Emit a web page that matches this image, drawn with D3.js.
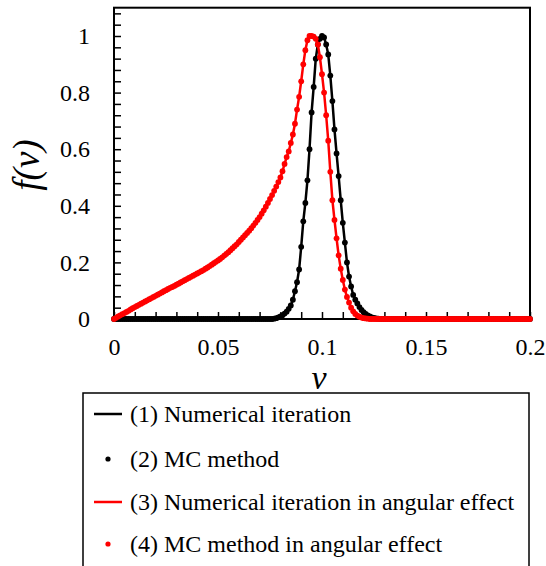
<!DOCTYPE html>
<html>
<head>
<meta charset="utf-8">
<title>f(v)</title>
<script src="https://d3js.org/d3.v7.min.js"></script>
<style>
  body { margin: 0; background: #fff; }
  text { font-family: "Liberation Serif", "Times New Roman", serif; fill: #000; }
</style>
</head>
<body>
<div id="chart"></div>
<script>
// tick labels
var xTickLabels = [0, 0.05, 0.1, 0.15, 0.2];
var yTickLabels = [0, 0.2, 0.4, 0.6, 0.8, 1];

// v grid shared by both curves
var vGrid = [
  0.000, 0.001, 0.002, 0.003, 0.004, 0.005, 0.006, 0.007, 0.008, 0.009,
  0.010, 0.011, 0.012, 0.013, 0.014, 0.015, 0.016, 0.017, 0.018, 0.019,
  0.020, 0.021, 0.022, 0.023, 0.024, 0.025, 0.026, 0.027, 0.028, 0.029,
  0.030, 0.031, 0.032, 0.033, 0.034, 0.035, 0.036, 0.037, 0.038, 0.039,
  0.040, 0.041, 0.042, 0.043, 0.044, 0.045, 0.046, 0.047, 0.048, 0.049,
  0.050, 0.051, 0.052, 0.053, 0.054, 0.055, 0.056, 0.057, 0.058, 0.059,
  0.060, 0.061, 0.062, 0.063, 0.064, 0.065, 0.066, 0.067, 0.068, 0.069,
  0.070, 0.071, 0.072, 0.073, 0.074, 0.075, 0.076, 0.077, 0.078, 0.079,
  0.080, 0.081, 0.082, 0.083, 0.084, 0.085, 0.086, 0.087, 0.088, 0.089,
  0.090, 0.091, 0.092, 0.093, 0.094, 0.095, 0.096, 0.097, 0.098, 0.099,
  0.100, 0.101, 0.102, 0.103, 0.104, 0.105, 0.106, 0.107, 0.108, 0.109,
  0.110, 0.111, 0.112, 0.113, 0.114, 0.115, 0.116, 0.117, 0.118, 0.119,
  0.120, 0.121, 0.122, 0.123, 0.124, 0.125, 0.126, 0.127, 0.128, 0.129,
  0.130, 0.131, 0.132, 0.133, 0.134, 0.135, 0.136, 0.137, 0.138, 0.139,
  0.140, 0.141, 0.142, 0.143, 0.144, 0.145, 0.146, 0.147, 0.148, 0.149,
  0.150, 0.151, 0.152, 0.153, 0.154, 0.155, 0.156, 0.157, 0.158, 0.159,
  0.160, 0.161, 0.162, 0.163, 0.164, 0.165, 0.166, 0.167, 0.168, 0.169,
  0.170, 0.171, 0.172, 0.173, 0.174, 0.175, 0.176, 0.177, 0.178, 0.179,
  0.180, 0.181, 0.182, 0.183, 0.184, 0.185, 0.186, 0.187, 0.188, 0.189,
  0.190, 0.191, 0.192, 0.193, 0.194, 0.195, 0.196, 0.197, 0.198, 0.199,
  0.200];

// black: numerical iteration / MC method
var fBlack = [
  0, 0, 0, 0, 0, 0, 0, 0, 0, 0,
  0, 0, 0, 0, 0, 0, 0, 0, 0, 0,
  0, 0, 0, 0, 0, 0, 0, 0, 0, 0,
  0, 0, 0, 0, 0, 0, 0, 0, 0, 0,
  0, 0, 0, 0, 0, 0, 0, 0, 0, 0,
  0, 0, 0, 0, 0, 0, 0, 0, 0, 0,
  0, 0, 0, 0, 0, 0, 0, 0, 0, 0,
  0, 0, 0, 0, 0, 0, 0, 0.001, 0.003, 0.006,
  0.009, 0.013, 0.019, 0.026, 0.036, 0.048, 0.068, 0.098, 0.13, 0.175,
  0.255, 0.345, 0.41, 0.49, 0.6, 0.73, 0.82, 0.92, 0.97, 0.99,
  1.0, 0.995, 0.97, 0.935, 0.86, 0.77, 0.67, 0.585, 0.505, 0.42,
  0.34, 0.27, 0.2, 0.15, 0.115, 0.085, 0.068, 0.055, 0.042, 0.032,
  0.024, 0.018, 0.013, 0.009, 0.006, 0.004, 0.002, 0.001, 0, 0,
  0, 0, 0, 0, 0, 0, 0, 0, 0, 0,
  0, 0, 0, 0, 0, 0, 0, 0, 0, 0,
  0, 0, 0, 0, 0, 0, 0, 0, 0, 0,
  0, 0, 0, 0, 0, 0, 0, 0, 0, 0,
  0, 0, 0, 0, 0, 0, 0, 0, 0, 0,
  0, 0, 0, 0, 0, 0, 0, 0, 0, 0,
  0, 0, 0, 0, 0, 0, 0, 0, 0, 0,
  0];

// red: angular effect
var fRed = [
  0, 0.004, 0.009, 0.013, 0.017, 0.021, 0.025, 0.029, 0.034, 0.038,
  0.042, 0.046, 0.05, 0.054, 0.058, 0.062, 0.066, 0.07, 0.074, 0.078,
  0.082, 0.086, 0.09, 0.094, 0.098, 0.102, 0.106, 0.11, 0.113, 0.117,
  0.121, 0.125, 0.129, 0.133, 0.137, 0.141, 0.145, 0.149, 0.153, 0.157,
  0.161, 0.165, 0.169, 0.173, 0.178, 0.182, 0.187, 0.192, 0.197, 0.202,
  0.207, 0.212, 0.218, 0.224, 0.23, 0.236, 0.243, 0.25, 0.257, 0.264,
  0.272, 0.28, 0.288, 0.296, 0.304, 0.312, 0.321, 0.33, 0.34, 0.35,
  0.36, 0.372, 0.384, 0.397, 0.41, 0.424, 0.438, 0.453, 0.468, 0.484,
  0.5, 0.522, 0.548, 0.572, 0.592, 0.622, 0.652, 0.69, 0.74, 0.785,
  0.84, 0.9, 0.95, 0.985, 1.0, 1.0, 0.998, 0.99, 0.97, 0.925,
  0.865, 0.8, 0.72, 0.63, 0.52, 0.42, 0.35, 0.285, 0.225, 0.178,
  0.138, 0.104, 0.078, 0.058, 0.04, 0.027, 0.018, 0.012, 0.008, 0.005,
  0.003, 0.002, 0.001, 0, 0, 0, 0, 0, 0, 0,
  0, 0, 0, 0, 0, 0, 0, 0, 0, 0,
  0, 0, 0, 0, 0, 0, 0, 0, 0, 0,
  0, 0, 0, 0, 0, 0, 0, 0, 0, 0,
  0, 0, 0, 0, 0, 0, 0, 0, 0, 0,
  0, 0, 0, 0, 0, 0, 0, 0, 0, 0,
  0, 0, 0, 0, 0, 0, 0, 0, 0, 0,
  0, 0, 0, 0, 0, 0, 0, 0, 0, 0,
  0];

var legendLabels = [
  "(1) Numerical iteration",
  "(2) MC method",
  "(3) Numerical iteration in angular effect",
  "(4) MC method in angular effect"
];

var width = 546, height = 566;
var svg = d3.select("#chart").append("svg")
  .attr("width", width)
  .attr("height", height);

var x = d3.scaleLinear().domain([0, 0.2]).range([114, 530]);
var y = d3.scaleLinear().domain([0, 1]).range([319, 36]);
var yTop = y(1.1);

// minor ticks
var xTicks = d3.range(0, 21).map(function (i) { return i / 100; });
var yTicks = d3.range(0, 28).map(function (i) { return i * 4 / 100; });
var fmt = function (d) { return d3.format("~g")(d); };

var xAxis = svg.append("g")
  .attr("transform", "translate(0," + y(0) + ")")
  .call(d3.axisBottom(x).tickValues(xTicks).tickSize(-7).tickPadding(19)
    .tickFormat(function (d) {
      return xTickLabels.some(function (t) { return Math.abs(t - d) < 1e-9; }) ? fmt(d) : "";
    }));

var yAxis = svg.append("g")
  .attr("transform", "translate(" + x(0) + ",0)")
  .call(d3.axisLeft(y).tickValues(yTicks).tickSize(-7).tickPadding(24)
    .tickFormat(function (d) {
      return yTickLabels.some(function (t) { return Math.abs(t - d) < 1e-9; }) ? fmt(d) : "";
    }));

[xAxis, yAxis].forEach(function (g) {
  g.select(".domain").remove();
  g.selectAll(".tick line").attr("stroke", "#000").attr("stroke-width", 1.5);
  g.selectAll(".tick text").attr("font-size", 24)
    .attr("font-family", "'Liberation Serif', 'Times New Roman', serif");
});

// frame
svg.append("rect")
  .attr("x", x(0)).attr("y", yTop)
  .attr("width", x(0.2) - x(0)).attr("height", y(0) - yTop)
  .attr("fill", "none").attr("stroke", "#000").attr("stroke-width", 2);

var line = d3.line()
  .x(function (d) { return x(d[0]); })
  .y(function (d) { return y(d[1]); });

function drawSeries(vs, fs, color) {
  var pts = vs.map(function (v, i) { return [v, fs[i]]; });
  svg.append("path").datum(pts)
    .attr("d", line)
    .attr("fill", "none")
    .attr("stroke", color)
    .attr("stroke-width", 2.5);
  svg.append("g").selectAll("circle")
    .data(pts).enter().append("circle")
    .attr("cx", function (d) { return x(d[0]); })
    .attr("cy", function (d) { return y(d[1]); })
    .attr("r", 2.9)
    .attr("fill", color);
}

drawSeries(vGrid, fBlack, "#000");
drawSeries(vGrid, fRed, "#f00");

// axis titles
svg.append("text")
  .attr("transform", "translate(39,165) rotate(-90)")
  .attr("text-anchor", "middle")
  .attr("font-size", 37)
  .attr("font-style", "italic")
  .text("f(v)");

svg.append("text")
  .attr("x", 319).attr("y", 389)
  .attr("text-anchor", "middle")
  .attr("font-size", 34)
  .attr("font-style", "italic")
  .text("v");

// legend
var legend = svg.append("g");
legend.append("rect")
  .attr("x", 83).attr("y", 393)
  .attr("width", 446).attr("height", 190)
  .attr("fill", "#fff").attr("stroke", "#000").attr("stroke-width", 1.5);

var legendY = [414, 459, 502, 544];
var legendColor = ["#000", "#000", "#f00", "#f00"];
legendLabels.forEach(function (lab, i) {
  var yy = legendY[i];
  if (i % 2 === 0) {
    legend.append("line")
      .attr("x1", 94).attr("x2", 122).attr("y1", yy).attr("y2", yy)
      .attr("stroke", legendColor[i]).attr("stroke-width", 2.5);
  } else {
    legend.append("circle")
      .attr("cx", 108).attr("cy", yy).attr("r", 2.6)
      .attr("fill", legendColor[i]);
  }
  legend.append("text")
    .attr("x", 130).attr("y", yy + 8)
    .attr("font-size", 24)
    .text(lab);
});
</script>
</body>
</html>
